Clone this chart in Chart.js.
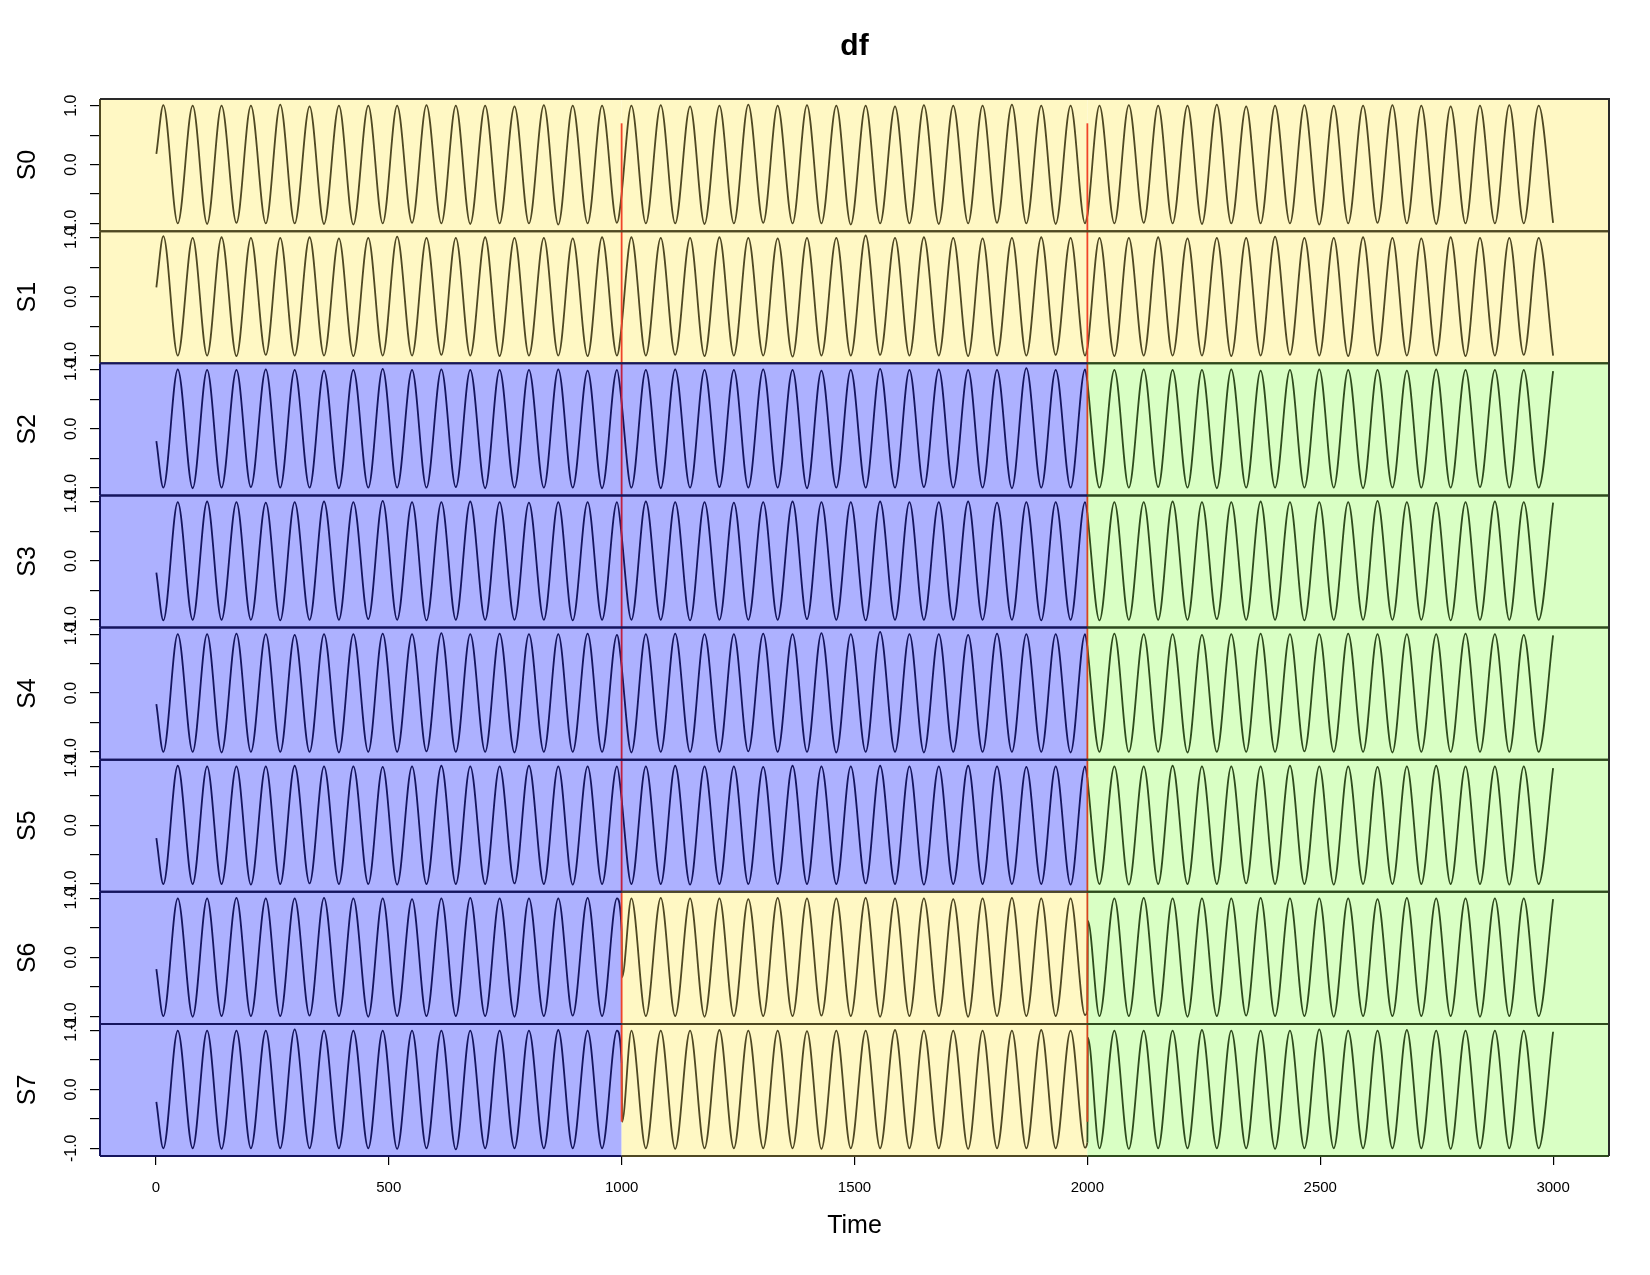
<!DOCTYPE html>
<html><head><meta charset="utf-8">
<script src="https://cdn.jsdelivr.net/npm/chart.js@4.4.1/dist/chart.umd.min.js"></script>
<style>html,body{margin:0;padding:0;background:#fff}#wrap{width:1650px;height:1275px}</style>
</head><body><div id="wrap"><canvas id="c" width="1650" height="1275"></canvas></div>
<script>
// Time stamps of the points (start, every crest/trough, regime switch points, end)
const T = [1,
 16,47,79,110,141,173,204,236,267,298,330,361,393,424,456,487,518,550,581,613,644,675,707,738,770,801,833,864,895,927,958,990,
 1000,1001,
 1021,1052,1084,1115,1147,1178,1210,1241,1272,1304,1335,1367,1398,1429,1461,1492,1524,1555,1587,1618,1649,1681,1712,1744,1775,1806,1838,1869,1901,1932,1964,1995,
 2000,2001,
 2026,2058,2089,2121,2152,2183,2215,2246,2278,2309,2341,2372,2403,2435,2466,2498,2529,2560,2592,2623,2655,2686,2717,2749,2780,2812,2843,2875,2906,2937,2969,
 3000];

const S0 = [0.18,
 1.01,-1.00,1.00,-1.01,1.00,-0.99,1.00,-1.00,1.02,-1.00,0.99,-1.01,1.00,-1.02,1.00,-1.00,1.00,-0.99,1.01,-1.00,1.00,-1.01,1.00,-1.00,0.99,-1.00,1.01,-1.02,1.00,-1.00,1.00,-0.99,
 -0.51,-0.42,
 1.00,-1.00,1.01,-1.00,0.99,-1.01,1.00,-1.00,1.02,-0.99,1.00,-1.00,1.01,-1.00,1.00,-1.02,1.00,-1.00,0.99,-1.00,1.01,-1.01,1.00,-1.00,1.00,-0.99,1.02,-1.00,1.00,-1.01,1.00,-1.00,
 -0.87,-0.82,
 1.00,-1.00,1.01,-0.99,1.00,-1.00,1.00,-1.01,1.02,-1.00,0.99,-1.00,1.00,-1.00,1.01,-1.02,1.00,-1.00,1.00,-0.99,1.01,-1.00,1.00,-1.01,0.99,-1.00,1.00,-1.00,1.01,-1.00,1.00,
 -0.99];
const S1 = [0.16,
 1.03,-1.00,1.00,-1.00,1.01,-1.01,1.00,-0.99,1.00,-1.00,1.01,-1.00,0.99,-1.01,1.00,-1.00,1.02,-1.00,1.00,-0.99,1.00,-1.00,1.01,-1.01,1.00,-1.00,1.00,-1.00,0.99,-1.01,1.01,-1.00,
 -0.50,-0.41,
 1.01,-1.00,1.00,-0.99,1.00,-1.01,1.01,-1.00,1.00,-1.00,0.99,-1.02,1.00,-1.00,1.00,-1.00,1.04,-0.99,1.00,-1.00,1.01,-1.00,1.00,-1.01,0.99,-1.00,1.00,-1.00,1.01,-0.99,1.00,-1.00,
 -0.88,-0.83,
 1.00,-1.01,1.00,-1.00,1.01,-1.00,0.99,-1.00,1.00,-1.01,1.00,-1.00,1.02,-0.99,1.00,-1.00,1.00,-1.01,1.01,-1.00,1.00,-1.00,0.99,-1.00,1.01,-1.01,1.00,-1.00,1.00,-0.99,1.00,
 -1.00];
const S2 = [-0.21,
 -1.00,1.01,-1.01,1.00,-1.00,1.00,-0.99,1.01,-1.00,1.00,-1.00,0.99,-1.01,1.00,-1.00,1.02,-1.00,1.00,-1.00,1.01,-0.99,1.00,-1.01,1.00,-1.00,1.00,-1.00,1.01,-1.00,0.99,-1.01,1.00,
 0.45,0.36,
 -1.00,1.00,-1.01,1.01,-1.00,1.00,-0.99,1.00,-1.00,1.01,-1.00,1.00,-1.01,0.99,-1.00,1.00,-1.00,1.02,-1.00,1.00,-0.99,1.01,-1.00,1.00,-1.00,1.00,-1.01,1.03,-1.00,1.00,-1.00,1.01,
 0.80,0.72,
 -1.00,1.00,-1.00,1.01,-0.99,1.00,-1.00,1.00,-1.01,1.01,-1.00,0.99,-1.00,1.00,-1.00,1.01,-1.00,1.00,-1.01,1.00,-1.00,0.99,-1.00,1.01,-1.00,1.00,-0.99,1.00,-1.00,1.00,-1.00,
 0.98];
const S3 = [-0.20,
 -1.01,1.00,-1.00,1.01,-1.00,1.00,-1.00,0.99,-1.01,1.00,-1.00,1.01,-1.00,1.00,-0.99,1.02,-1.00,1.00,-1.01,1.00,-1.00,1.01,-1.00,1.00,-1.00,0.99,-1.00,1.00,-1.01,1.00,-1.00,1.00,
 0.44,0.35,
 -1.00,1.01,-1.00,1.00,-1.01,1.00,-1.00,0.99,-1.00,1.00,-1.00,1.01,-0.99,1.00,-1.00,1.00,-1.01,1.01,-1.00,1.00,-1.00,1.00,-1.00,1.01,-1.00,0.99,-1.00,1.00,-1.01,1.00,-1.00,1.00,
 0.81,0.73,
 -1.01,1.00,-1.00,1.00,-1.00,1.01,-1.00,1.00,-0.99,1.00,-1.00,1.01,-1.00,1.00,-1.01,1.00,-1.00,1.00,-1.00,1.02,-1.00,1.00,-1.00,0.99,-1.01,1.00,-1.00,1.01,-1.00,1.00,-1.00,
 0.99];
const S4 = [-0.19,
 -1.00,1.00,-1.00,1.00,-1.01,1.01,-1.00,1.00,-1.00,0.99,-1.00,1.00,-1.01,1.00,-1.00,1.01,-1.00,1.00,-0.99,1.02,-1.00,1.00,-1.00,1.01,-1.01,1.00,-1.00,1.00,-1.00,1.01,-1.00,0.99,
 0.46,0.37,
 -1.01,1.00,-1.00,1.01,-1.00,1.00,-1.00,1.00,-0.99,1.01,-1.00,1.00,-1.00,1.02,-1.01,1.00,-1.00,1.04,-1.00,1.00,-1.01,1.00,-1.00,0.99,-1.00,1.01,-1.00,1.00,-1.00,1.00,-1.01,1.00,
 0.79,0.71,
 -1.00,1.01,-1.00,1.00,-1.00,1.00,-1.01,0.99,-1.00,1.00,-1.00,1.01,-1.00,1.00,-0.99,1.00,-1.00,1.01,-1.00,1.00,-1.01,1.00,-1.00,1.00,-1.00,1.01,-1.00,1.00,-1.00,0.99,-1.00,
 0.98];
const S5 = [-0.22,
 -1.00,1.01,-1.00,1.00,-1.00,1.00,-1.01,1.00,-1.00,1.01,-0.99,1.00,-1.00,1.00,-1.00,0.99,-1.01,1.00,-1.00,1.01,-1.00,1.00,-1.00,1.00,-0.99,1.01,-1.00,1.00,-1.01,1.00,-1.00,1.00,
 0.45,0.36,
 -1.00,1.00,-1.00,1.01,-1.01,1.00,-1.00,1.00,-1.00,0.99,-1.00,1.01,-1.00,1.00,-1.00,1.00,-0.99,1.01,-1.00,1.00,-1.01,1.00,-1.00,1.01,-1.00,1.00,-1.00,0.99,-1.00,1.00,-1.01,1.00,
 0.80,0.72,
 -1.00,1.00,-1.01,1.00,-1.00,1.01,-1.00,1.00,-1.00,1.00,-0.99,1.00,-1.00,1.01,-1.00,1.00,-1.01,1.00,-1.00,0.99,-1.00,1.00,-1.00,1.01,-1.00,1.00,-1.00,1.00,-1.01,1.00,-1.00,
 0.97];
const S6 = [-0.20,
 -1.00,1.00,-1.01,1.00,-1.00,1.01,-1.00,1.00,-1.00,1.00,-0.99,1.01,-1.00,1.00,-1.01,1.00,-1.00,0.99,-1.00,1.00,-1.00,1.01,-1.00,1.00,-1.01,1.00,-1.00,1.00,-0.99,1.01,-1.00,1.00,
 0.45,-0.34,
 1.00,-1.00,1.01,-1.00,1.00,-1.01,1.00,-1.00,0.99,-1.00,1.01,-1.00,1.00,-0.99,1.00,-1.00,1.01,-1.01,1.00,-1.00,1.00,-1.00,0.99,-1.01,1.00,-1.00,1.01,-1.00,1.00,-1.00,1.00,-0.98,
 -0.90,0.62,
 -1.00,1.00,-1.00,1.01,-1.00,1.00,-1.01,1.00,-1.00,1.00,-0.99,1.01,-1.00,1.00,-1.00,1.00,-1.01,1.00,-1.00,0.99,-1.00,1.01,-1.00,1.00,-1.00,1.00,-1.01,1.00,-1.00,1.00,-1.00,
 0.99];
const S7 = [-0.21,
 -1.00,1.00,-1.00,1.00,-1.01,1.00,-1.00,1.00,-1.00,1.02,-1.00,1.00,-1.00,1.00,-1.00,1.00,-1.01,1.00,-1.00,1.00,-1.02,1.00,-1.00,1.00,-1.00,1.00,-1.00,1.01,-1.00,1.00,-1.00,1.00,
 0.45,-0.55,
 1.00,-1.00,1.00,-1.01,1.00,-1.00,1.01,-1.00,1.00,-1.00,1.00,-1.00,0.99,-1.01,1.00,-1.00,1.00,-1.00,1.01,-1.00,1.00,-1.00,1.00,-1.01,1.00,-1.00,1.00,-1.00,1.01,-1.00,1.00,-0.99,
 -0.90,0.88,
 -1.00,1.00,-1.01,1.00,-1.00,1.00,-1.00,1.01,-1.00,1.00,-1.00,1.00,-1.01,1.00,-1.00,1.02,-1.00,1.00,-1.00,1.00,-1.00,1.01,-1.00,1.00,-1.01,1.00,-1.00,1.00,-1.00,1.00,-1.00,
 0.98];

const seriesNames = ['S0','S1','S2','S3','S4','S5','S6','S7'];
const seriesValues = [S0,S1,S2,S3,S4,S5,S6,S7];
const xTickValues = [0,500,1000,1500,2000,2500,3000];
const yTickValues = [-1,-0.5,0,0.5,1];
const yLabelValues = [-1,0,1];
const yLabelTexts = ['-1.0','0.0','1.0'];
const regimeBreaks = [1000,2000];           // change points (red lines)
const panelRegimes = [                      // regime of each panel in [..1000), [1000..2000), [2000..)
  ['Y','Y','Y'],['Y','Y','Y'],
  ['B','B','G'],['B','B','G'],['B','B','G'],['B','B','G'],
  ['B','Y','G'],['B','Y','G']];
const cutSpan = [0.26, 7.816];              // vertical extent of the red lines, in panel units (0 = bottom)

// styles
const FONT = '"Liberation Sans", Arial, Helvetica, sans-serif';
const bgColor = {Y:'#FFF8C4', B:'#ADB1FF', G:'#D9FFC4'};
const lineColor = {Y:'#4F4822', B:'#15155E', G:'#2E4B1C'};
const redColor = {Y:'#F0442A', B:'#C0203F', G:'#D8441E'};

function regimeAt(panel, x){
  const idx = x < regimeBreaks[0] ? 0 : (x < regimeBreaks[1] ? 1 : 2);
  return panelRegimes[panel][idx];
}

const datasets = [];
seriesNames.forEach((name, p) => {
  datasets.push({
    label: name,
    data: T.map((t, i) => ({x: t, y: seriesValues[p][i]})),
    xAxisID: 'x', yAxisID: 'y' + p,
    borderWidth: 1.8, pointRadius: 0, fill: false,
    cubicInterpolationMode: 'monotone',
    borderColor: lineColor[regimeAt(p, 0)],
    segment: { borderColor: c => lineColor[regimeAt(p, c.p0.parsed.x)] },
    order: 1
  });
});
regimeBreaks.forEach(cut => {
  const ys = [cutSpan[0], 1, 2, 3, 4, 5, 6, 7, cutSpan[1]];
  datasets.push({
    label: 'cut' + cut,
    data: ys.map(v => ({x: cut, y: v})),
    xAxisID: 'x', yAxisID: 'yr',
    borderWidth: 1.8, pointRadius: 0, fill: false, tension: 0,
    borderColor: redColor.Y,
    segment: { borderColor: c => redColor[regimeAt(7 - Math.floor(c.p0.parsed.y), cut + 0.5)] },
    order: 0
  });
});

const scales = {
  x: {
    type: 'linear', position: 'bottom', min: -120, max: 3120,
    afterBuildTicks: a => { a.ticks = xTickValues.map(v => ({value: v})); },
    afterFit: a => { a.height = 119; },
    ticks: { color: '#000', font: {family: FONT, size: 15}, padding: 14, maxRotation: 0, autoSkip: false, callback: v => String(v) },
    grid: { drawOnChartArea: false, drawTicks: true, tickLength: 9, color: '#000', lineWidth: 1.2 },
    border: { display: false },
    title: { display: true, text: 'Time', color: '#000', font: {family: FONT, size: 25}, padding: {top: 0, bottom: 34} }
  },
  yr: { type: 'linear', display: false, position: 'left', min: 0, max: 8 }
};
// stacked left axes are laid out top-down from the last defined one, so define S7 first
for (let p = seriesNames.length - 1; p >= 0; p--){
  const name = seriesNames[p];
  scales['y' + p] = {
    type: 'linear', position: 'left', stack: 'panels', stackWeight: 1,
    min: -1.131, max: 1.114,
    afterBuildTicks: a => { a.ticks = yTickValues.map(v => ({value: v})); },
    afterFit: a => { a.width = 100; },
    ticks: { display: false },
    grid: { drawOnChartArea: false, drawTicks: true, tickLength: 10, color: '#000', lineWidth: 1.2 },
    border: { display: false },
    title: { display: true, text: name, color: '#000', font: {family: FONT, size: 25}, padding: {top: 13, bottom: 0} }
  };
}

const panelPlugin = {
  id: 'panels',
  beforeDatasetsDraw(chart){
    const ctx = chart.ctx, xs = chart.scales.x, ca = chart.chartArea;
    ctx.save();
    seriesNames.forEach((n, p) => {
      const ys = chart.scales['y' + p];
      const edges = [ca.left, ...regimeBreaks.map(b => xs.getPixelForValue(b)), ca.right];
      for (let j = 0; j < 3; j++){
        ctx.fillStyle = bgColor[panelRegimes[p][j]];
        ctx.fillRect(edges[j], ys.top, edges[j+1] - edges[j], ys.bottom - ys.top);
      }
    });
    ctx.restore();
  },
  afterDatasetsDraw(chart){
    const ctx = chart.ctx, xs = chart.scales.x, ca = chart.chartArea;
    ctx.save();
    ctx.lineWidth = 2;
    seriesNames.forEach((n, p) => {
      const ys = chart.scales['y' + p];
      const edges = [ca.left, ...regimeBreaks.map(b => xs.getPixelForValue(b)), ca.right];
      for (let j = 0; j < 3; j++){
        ctx.strokeStyle = lineColor[panelRegimes[p][j]];
        ctx.beginPath();
        ctx.moveTo(edges[j], ys.top); ctx.lineTo(edges[j+1], ys.top);
        ctx.moveTo(edges[j], ys.bottom); ctx.lineTo(edges[j+1], ys.bottom);
        if (j === 0){ ctx.moveTo(edges[0], ys.top); ctx.lineTo(edges[0], ys.bottom); }
        if (j === 2){ ctx.moveTo(edges[3], ys.top); ctx.lineTo(edges[3], ys.bottom); }
        ctx.stroke();
      }
    });
    ctx.strokeStyle = '#2a2a2a';
    ctx.beginPath();
    ctx.moveTo(ca.left, ca.top); ctx.lineTo(ca.right, ca.top); ctx.lineTo(ca.right, ca.bottom);
    ctx.stroke();
    ctx.restore();
  },
  afterDraw(chart){
    const ctx = chart.ctx;
    ctx.save();
    ctx.fillStyle = '#000';
    ctx.font = '16px ' + FONT;
    ctx.textAlign = 'center';
    ctx.textBaseline = 'middle';
    seriesNames.forEach((n, p) => {
      const ys = chart.scales['y' + p];
      yLabelValues.forEach((v, k) => {
        ctx.save();
        ctx.translate(ys.right - 28, ys.getPixelForValue(v));
        ctx.rotate(-Math.PI / 2);
        ctx.fillText(yLabelTexts[k], 0, 0);
        ctx.restore();
      });
    });
    ctx.restore();
  }
};

new Chart(document.getElementById('c'), {
  type: 'line',
  data: { datasets },
  options: {
    responsive: false, devicePixelRatio: 1, animation: false, parsing: false, normalized: true,
    layout: { padding: {left: 0, right: 41, top: 0, bottom: 0} },
    scales,
    plugins: {
      legend: { display: false },
      tooltip: { enabled: false },
      title: { display: true, text: 'df', fullSize: false, color: '#000',
               font: {family: FONT, size: 30, weight: 'bold'}, padding: {top: 29, bottom: 34} }
    }
  },
  plugins: [panelPlugin]
});
</script></body></html>
